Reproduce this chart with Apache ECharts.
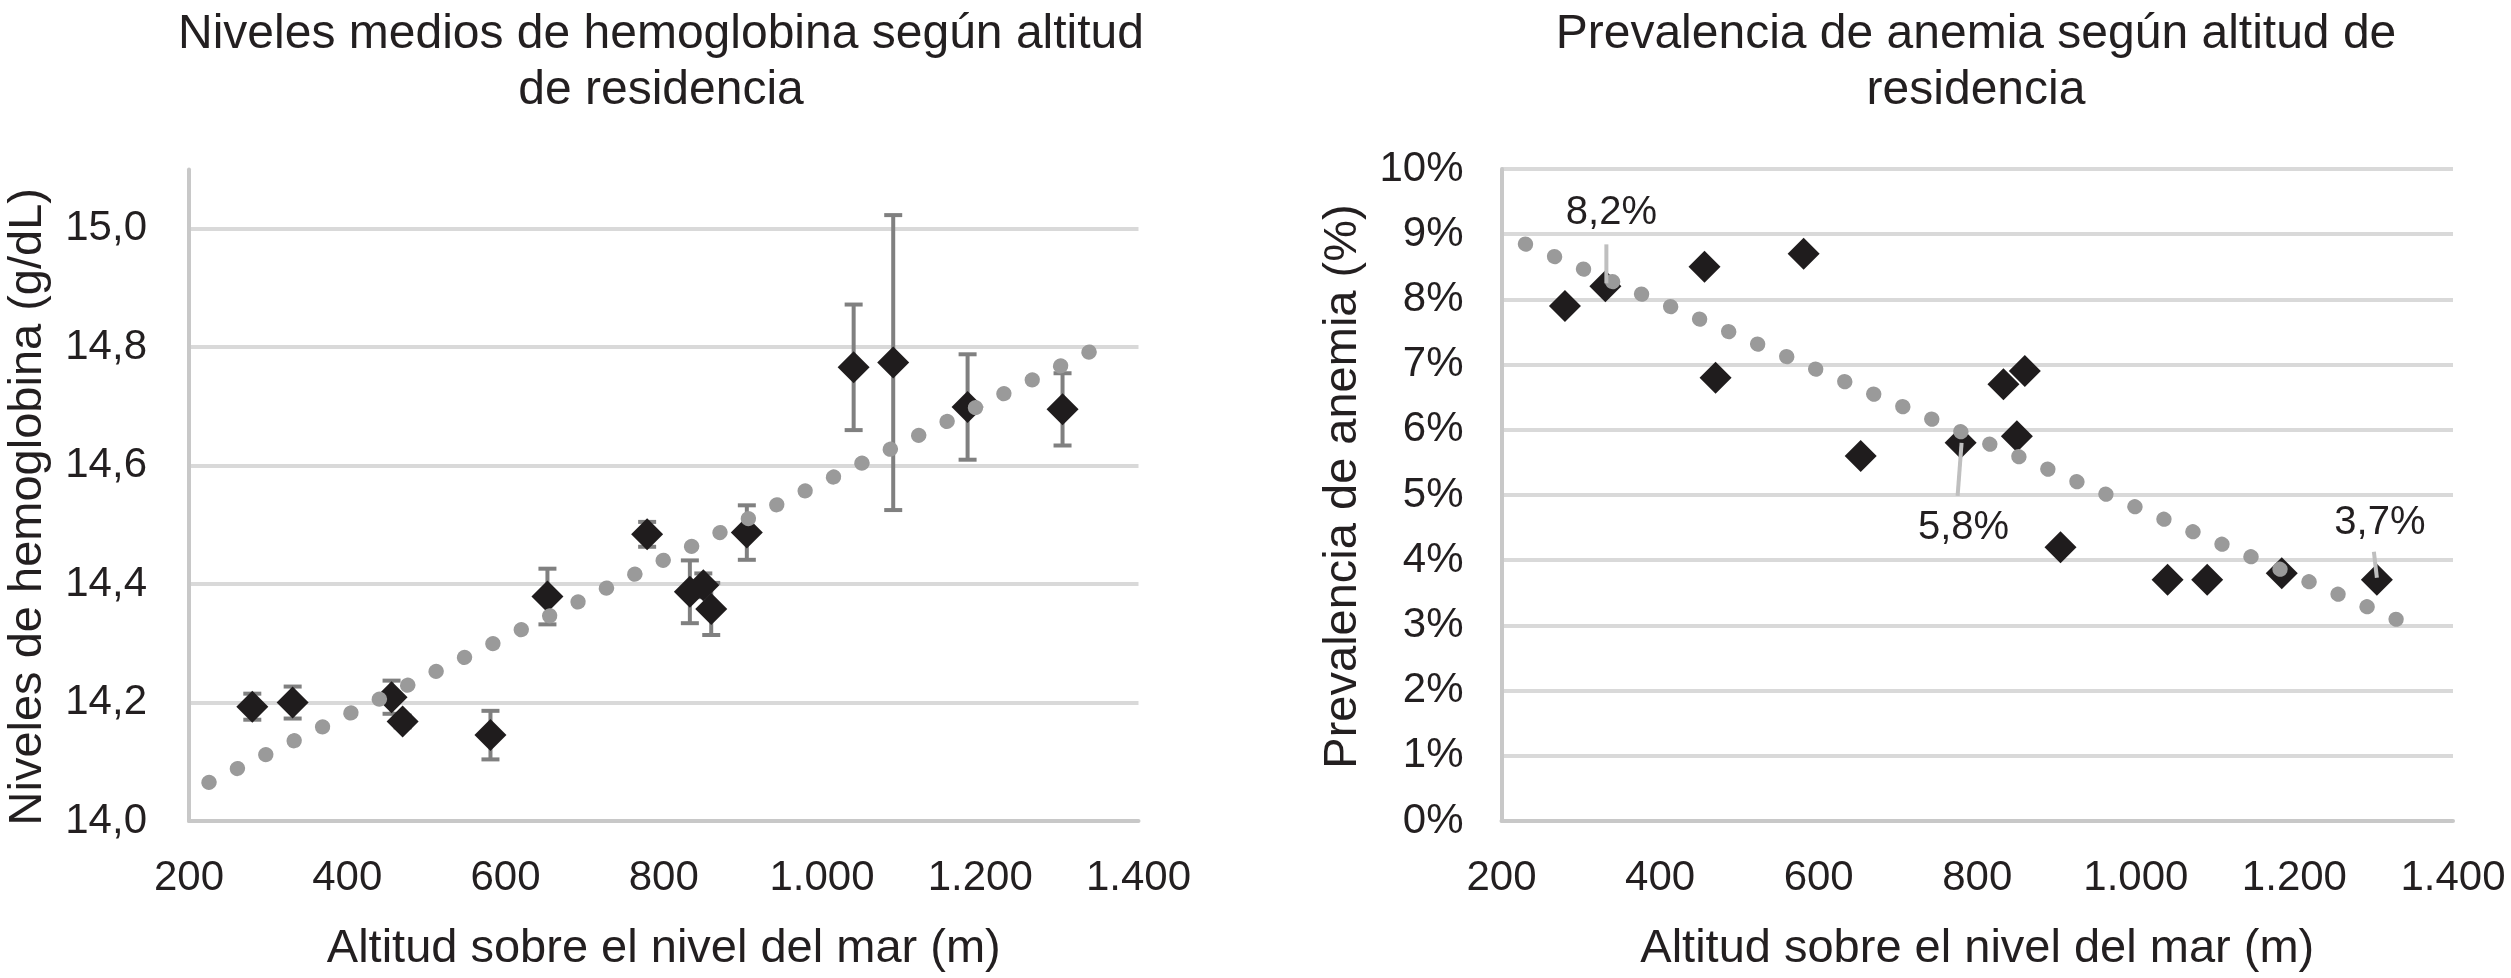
<!DOCTYPE html>
<html><head><meta charset="utf-8">
<script src="https://cdn.jsdelivr.net/npm/echarts@6/dist/echarts.min.js"></script>
<style>html,body{margin:0;padding:0;background:#fff}#c{width:2511px;height:978px}</style>
</head><body><div id="c"></div>
<script>
// ---- data ----
const altitude   = [280, 331, 456, 470, 581, 653, 779, 833, 850, 860, 905, 1040, 1090, 1184, 1304];
const hemoglobin = [14.193, 14.200, 14.209, 14.168, 14.145, 14.379, 14.484, 14.387, 14.398, 14.358, 14.487, 14.766, 14.774, 14.699, 14.695];
const hbError    = [0.022, 0.027, 0.028, 0.010, 0.041, 0.047, 0.021, 0.053, 0.020, 0.044, 0.046, 0.106, 0.249, 0.089, 0.061];
const anemia     = [7.9, 8.2, 8.5, 6.8, 8.7, 5.6, 5.8, 6.7, 5.9, 6.9, 4.2, 3.7, 3.7, 3.8, 3.7];
const hbTrend     = [[225, 14.065], [1344, 14.796]];
const anemiaTrend = [[230, 8.85], [1331, 3.08]];
const labeledIdx  = [1, 6, 14];
const xTicks = [200, 400, 600, 800, 1000, 1200, 1400];

// ---- styles ----
const FONT = "'Liberation Sans', Arial, Helvetica, sans-serif";
const TXT = '#231f20';
const AXIS_C = '#c8c8c8';
const GRID_C = '#d9d9d9';
// label placement relative to point (pixels): text centre, leader line start/end
const labelPlace = {
  1:  {tx: 6, ty: -73, l: [1, -42, 1, -3]},
  6:  {tx: 3, ty: 85,  l: [1, 0, -3, 53]},
  14: {tx: 3, ty: -57, l: [-3, -28, 0, -2]}
};

const fmtThousands = v => String(v).replace(/\B(?=(\d{3})+(?!\d))/g, '.');
const fmtComma1 = v => Number(v).toFixed(1).replace('.', ',');

function xAxisCfg(gi) {
  return {
    type: 'value', gridIndex: gi, min: xTicks[0], max: xTicks[xTicks.length - 1], interval: 200,
    axisLine: {show: true, onZero: false, lineStyle: {color: AXIS_C, width: 4}},
    axisTick: {show: false}, splitLine: {show: false},
    axisLabel: {margin: 36, fontSize: 42, color: TXT, fontFamily: FONT, formatter: fmtThousands},
    name: 'Altitud sobre el nivel del mar (m)', nameLocation: 'middle', nameGap: 105,
    nameTextStyle: {fontSize: 47, color: TXT, fontFamily: FONT}
  };
}

const errData = altitude.map((a, i) => [a, hemoglobin[i] - hbError[i], hemoglobin[i] + hbError[i]]);
const hbData = altitude.map((a, i) => [a, hemoglobin[i]]);
const anData = altitude.map((a, i) => [a, anemia[i]]);
const labData = labeledIdx.map(i => [altitude[i], anemia[i], i]);

const chart = echarts.init(document.getElementById('c'), null, {renderer: 'canvas'});
chart.setOption({
  animation: false,
  backgroundColor: '#fff',
  title: [
    {text: 'Niveles medios de hemoglobina según altitud\nde residencia', left: 656, top: 2, textAlign: 'center',
     textStyle: {fontSize: 48, fontWeight: 'normal', color: TXT, fontFamily: FONT, lineHeight: 56}},
    {text: 'Prevalencia de anemia según altitud de\nresidencia', left: 1971, top: 2, textAlign: 'center',
     textStyle: {fontSize: 48, fontWeight: 'normal', color: TXT, fontFamily: FONT, lineHeight: 56}}
  ],
  grid: [
    {left: 189, top: 169.5, width: 949.5, height: 652},
    {left: 1501.5, top: 169, width: 951.5, height: 652}
  ],
  xAxis: [xAxisCfg(0), xAxisCfg(1)],
  yAxis: [
    {type: 'value', gridIndex: 0, min: 14, max: 15.1, interval: 0.2,
     axisLine: {show: true, onZero: false, lineStyle: {color: AXIS_C, width: 4}},
     axisTick: {show: false},
     splitLine: {show: true, showMinLine: false, showMaxLine: false, lineStyle: {color: GRID_C, width: 4}},
     axisLabel: {margin: 42, fontSize: 42, color: TXT, fontFamily: FONT, showMaxLabel: false, formatter: fmtComma1},
     name: 'Niveles de hemoglobina (g/dL)', nameLocation: 'middle', nameGap: 137,
     nameTextStyle: {fontSize: 47, color: TXT, fontFamily: FONT, padding: [0, 23, 0, 0]}},
    {type: 'value', gridIndex: 1, min: 0, max: 10, interval: 1,
     axisLine: {show: true, onZero: false, lineStyle: {color: AXIS_C, width: 4}},
     axisTick: {show: false},
     splitLine: {show: true, showMinLine: false, lineStyle: {color: GRID_C, width: 4}},
     axisLabel: {margin: 38, fontSize: 42, color: TXT, fontFamily: FONT, formatter: v => v + '%'},
     name: 'Prevalencia de anemia (%)', nameLocation: 'middle', nameGap: 135,
     nameTextStyle: {fontSize: 47, color: TXT, fontFamily: FONT, padding: [0, 0, 0, 17]}}
  ],
  series: [
    {type: 'custom', xAxisIndex: 0, yAxisIndex: 0, z: 2, silent: true, data: errData,
     encode: {x: 0, y: [1, 2]},
     renderItem: (params, api) => {
       const x = api.value(0);
       const pLo = api.coord([x, api.value(1)]);
       const pHi = api.coord([x, api.value(2)]);
       const hw = 9;
       const st = {stroke: '#808080', lineWidth: 4};
       return {type: 'group', children: [
         {type: 'line', shape: {x1: pHi[0], y1: pHi[1], x2: pLo[0], y2: pLo[1]}, style: st},
         {type: 'line', shape: {x1: pHi[0] - hw, y1: pHi[1], x2: pHi[0] + hw, y2: pHi[1]}, style: st},
         {type: 'line', shape: {x1: pLo[0] - hw, y1: pLo[1], x2: pLo[0] + hw, y2: pLo[1]}, style: st}
       ]};
     }},
    {type: 'scatter', xAxisIndex: 0, yAxisIndex: 0, z: 3, data: hbData, symbol: 'diamond', symbolSize: [32, 32],
     itemStyle: {color: '#1f1c1d', opacity: 1}},
    {type: 'line', xAxisIndex: 0, yAxisIndex: 0, z: 4, data: hbTrend, showSymbol: false, symbol: 'none',
     lineStyle: {color: '#9a9a9a', width: 15, type: [0.5, 31.1], cap: 'round'}},
    {type: 'scatter', xAxisIndex: 1, yAxisIndex: 1, z: 3, data: anData, symbol: 'diamond', symbolSize: [32, 32],
     itemStyle: {color: '#1f1c1d', opacity: 1}},
    {type: 'line', xAxisIndex: 1, yAxisIndex: 1, z: 4, data: anemiaTrend, showSymbol: false, symbol: 'none',
     lineStyle: {color: '#9a9a9a', width: 15, type: [0.5, 31.1], cap: 'round'}},
    {type: 'custom', xAxisIndex: 1, yAxisIndex: 1, z: 5, silent: true, data: labData,
     encode: {x: 0, y: 1},
     renderItem: (params, api) => {
       const p = api.coord([api.value(0), api.value(1)]);
       const idx = api.value(2);
       const lp = labelPlace[idx];
       return {type: 'group', children: [
         {type: 'line', shape: {x1: p[0] + lp.l[0], y1: p[1] + lp.l[1], x2: p[0] + lp.l[2], y2: p[1] + lp.l[3]},
          style: {stroke: '#bfbfbf', lineWidth: 4}},
         {type: 'text', x: p[0] + lp.tx, y: p[1] + lp.ty,
          style: {text: fmtComma1(anemia[idx]) + '%', fill: TXT, font: '40px ' + FONT, align: 'center', verticalAlign: 'middle'}}
       ]};
     }}
  ]
});
</script></body></html>
